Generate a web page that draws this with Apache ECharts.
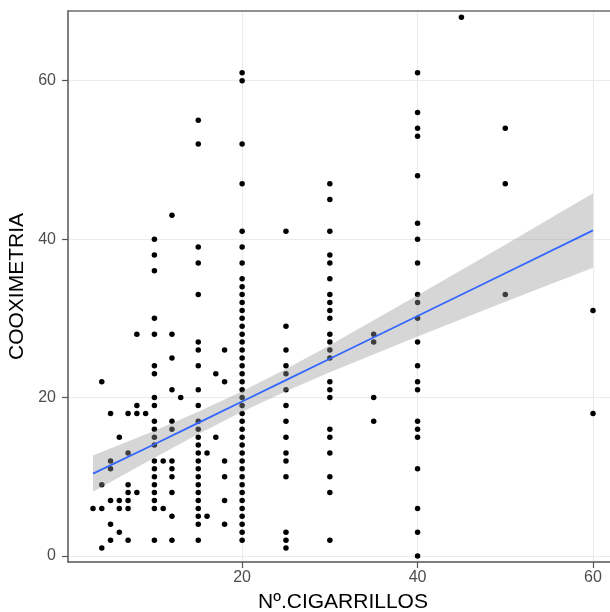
<!DOCTYPE html>
<html>
<head>
<meta charset="utf-8">
<script src="https://cdn.jsdelivr.net/npm/echarts@6/dist/echarts.min.js"></script>
<style>
  html, body { margin: 0; padding: 0; background: #ffffff; }
  #chart { width: 610px; height: 612px; }
</style>
</head>
<body>
<div id="chart"></div>
<script>
// Nº de cigarrillos (x) and the COOXIMETRIA values observed at each one
const cigarrillos = [3, 4, 5, 6, 7, 8, 9, 10, 11, 12, 13, 15, 16, 17, 18, 20, 25, 30, 35, 40, 45, 50, 60];
const cooximetria = [
  [6],
  [22, 9, 6, 1],
  [18, 12, 11, 7, 4, 2],
  [15, 7, 6, 3],
  [18, 13, 9, 8, 7, 6, 2],
  [28, 19, 18, 8],
  [18],
  [40, 38, 36, 30, 28, 24, 23, 20, 19, 17, 16, 15, 14, 12, 11, 10, 9, 8, 7, 6, 2],
  [12, 6],
  [43, 28, 25, 21, 17, 16, 12, 11, 10, 8, 5, 2],
  [20],
  [55, 52, 39, 37, 33, 27, 26, 24, 21, 19, 17, 16, 15, 14, 13, 12, 11, 10, 9, 8, 7, 6, 5, 4, 2],
  [13, 5],
  [23, 15],
  [26, 22, 12, 10, 7, 4],
  [61, 60, 52, 47, 41, 39, 37, 35, 34, 33, 32, 31, 30, 29, 28, 27, 26, 25, 24, 23, 22, 21, 20, 19, 18, 17, 16, 15, 14, 13, 12, 11, 10, 9, 8, 7, 6, 5, 4, 3, 2],
  [41, 29, 26, 24, 23, 21, 19, 17, 15, 13, 12, 10, 3, 2, 1],
  [47, 45, 41, 38, 37, 35, 33, 32, 31, 30, 28, 27, 26, 25, 22, 21, 20, 16, 15, 13, 10, 8, 2],
  [28, 27, 20, 17],
  [61, 56, 54, 53, 48, 42, 40, 37, 33, 32, 30, 27, 24, 22, 21, 17, 16, 15, 11, 6, 3, 0],
  [68],
  [54, 47, 33],
  [31, 18]
];

// Fitted line and its confidence band
const fitX  = [3, 10, 15, 20, 25, 30, 40, 50, 60];
const fitY  = [10.4, 14.1, 16.8, 19.5, 22.2, 24.9, 30.3, 35.7, 41.1];
const fitLo = [8.1, 12.4, 15.4, 18.2, 20.8, 23.2, 27.7, 32.1, 36.4];
const fitHi = [12.7, 15.8, 18.2, 20.8, 23.6, 26.6, 32.9, 39.3, 45.8];

// Tick labels
const xTicks = [20, 40, 60];
const yTicks = [0, 20, 40, 60];

const points = [];
cigarrillos.forEach((c, i) => cooximetria[i].forEach(v => points.push([c, v])));
const lineData = fitX.map((x, i) => [x, fitY[i]]);

const FONT = '"Liberation Sans", Arial, sans-serif';
const chart = echarts.init(document.getElementById('chart'), null, { renderer: 'canvas' });

chart.setOption({
  animation: false,
  backgroundColor: '#ffffff',
  grid: {
    left: 68, top: 11, right: -8, bottom: 50,
    outerBoundsMode: 'none',
    containLabel: false,
    show: false
  },
  xAxis: [
    {
      type: 'value',
      position: 'bottom',
      min: 0.15, max: 62.85,
      name: 'Nº.CIGARRILLOS',
      nameLocation: 'middle',
      nameGap: 30,
      nameTextStyle: { color: '#000000', fontSize: 21, fontFamily: FONT },
      axisLine: { show: true, onZero: false, lineStyle: { color: '#555555', width: 1.5 } },
      axisTick: { show: true, length: 6, customValues: xTicks, lineStyle: { color: '#555555', width: 1.2 } },
      axisLabel: { customValues: xTicks, margin: 8, color: '#4d4d4d', fontSize: 16, fontFamily: FONT },
      splitLine: { show: true, lineStyle: { color: '#ebebeb', width: 1.2 } }
    },
    {
      type: 'value',
      position: 'top',
      min: 0.15, max: 62.85,
      axisLine: { show: true, onZero: false, lineStyle: { color: '#6e6e6e', width: 1.5 } },
      axisTick: { show: false },
      axisLabel: { show: false },
      splitLine: { show: false }
    }
  ],
  yAxis: {
    type: 'value',
    min: -0.76, max: 68.8,
    name: 'COOXIMETRIA',
    nameLocation: 'middle',
    nameGap: 34,
    nameRotate: 90,
    nameTextStyle: { color: '#000000', fontSize: 21, fontFamily: FONT },
    axisLine: { show: true, onZero: false, lineStyle: { color: '#555555', width: 1.5 } },
    axisTick: { show: true, length: 6, customValues: yTicks, lineStyle: { color: '#555555', width: 1.2 } },
    axisLabel: { customValues: yTicks, margin: 12, color: '#4d4d4d', fontSize: 16, fontFamily: FONT },
    splitLine: { show: true, lineStyle: { color: '#ebebeb', width: 1.2 } }
  },
  series: [
    {
      type: 'scatter',
      data: points,
      symbol: 'circle',
      symbolSize: 5.5,
      itemStyle: { color: '#000000', opacity: 1 },
      z: 2
    },
    {
      type: 'custom',
      z: 3,
      silent: true,
      data: [[fitX[0], fitY[0]]],
      renderItem: function (params, api) {
        const pts = [];
        for (let i = 0; i < fitX.length; i++) pts.push(api.coord([fitX[i], fitHi[i]]));
        for (let i = fitX.length - 1; i >= 0; i--) pts.push(api.coord([fitX[i], fitLo[i]]));
        return { type: 'polygon', shape: { points: pts }, style: { fill: 'rgba(153,153,153,0.4)' } };
      }
    },
    {
      type: 'line',
      data: lineData,
      showSymbol: false,
      smooth: false,
      lineStyle: { color: '#3366ff', width: 1.8 },
      z: 4
    }
  ]
});
</script>
</body>
</html>
